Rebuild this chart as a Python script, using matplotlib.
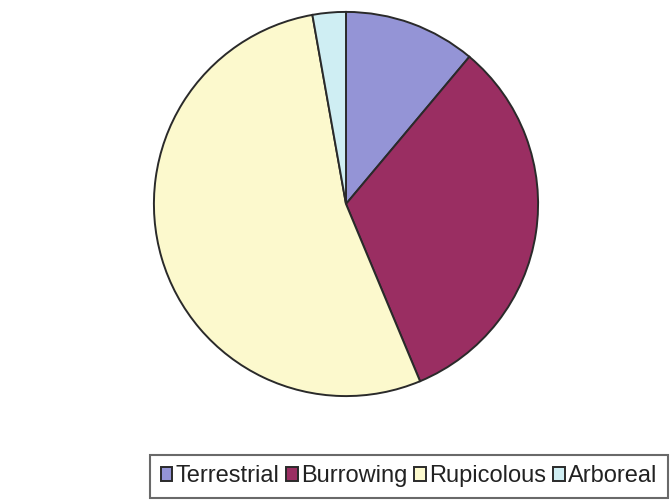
import matplotlib.pyplot as plt

# habitat share (%)
labels = ["Terrestrial", "Burrowing", "Rupicolous", "Arboreal"]
shares = [11.1, 32.6, 53.5, 2.8]
colors = ["#9494d6", "#9a2e62", "#fcf9cd", "#cfeef3"]

plt.rcParams['font.family'] = ['Liberation Sans', 'DejaVu Sans']

fig = plt.figure(figsize=(6.7, 5), dpi=100)
# pie box in pixels: x 152..540, y 10..398
ax = fig.add_axes([152/670, 102/500, 388/670, 388/500])
wedges, _ = ax.pie(shares, colors=colors, startangle=90, counterclock=False,
                   radius=1.0,
                   wedgeprops=dict(edgecolor="#2a2a2a", linewidth=1.4))
ax.set_xlim(-1.01, 1.01)
ax.set_ylim(-1.01, 1.01)
ax.set_aspect('equal')
ax.axis('off')

leg = fig.legend(wedges, labels, ncol=4, loc='lower left',
                 bbox_to_anchor=(150/670, 2/500), fontsize=17,
                 handlelength=0.5, handleheight=0.5, handletextpad=0.12,
                 columnspacing=0.3, borderpad=0.45, borderaxespad=0.0,
                 fancybox=False, frameon=True)
leg.get_frame().set_edgecolor("#444444")
leg.get_frame().set_linewidth(1.5)
for t in leg.get_texts():
    t.set_color("#222222")

fig.savefig("out.png", dpi=100)
